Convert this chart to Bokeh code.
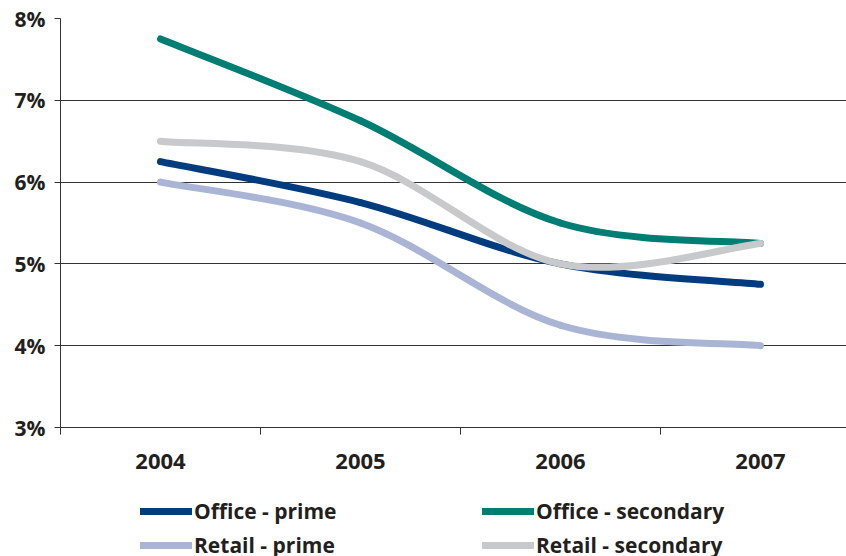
from bokeh.plotting import figure
from bokeh.layouts import column
from bokeh.models import (Range1d, FixedTicker, Legend, LegendItem, CustomJSTickFormatter)
from bokeh.embed import file_html
from bokeh.resources import INLINE

# Yields by year (%)
years = ["2004", "2005", "2006", "2007"]
office_prime = [6.25, 5.75, 5.0, 4.75]
office_secondary = [7.75, 6.75, 5.5, 5.25]
retail_prime = [6.0, 5.5, 4.25, 4.0]
retail_secondary = [6.5, 6.25, 5.0, 5.25]

series = [
    ("Office - prime", office_prime, "#003c7e"),
    ("Office - secondary", office_secondary, "#007e74"),
    ("Retail - prime", retail_prime, "#aab5d6"),
    ("Retail - secondary", retail_secondary, "#c8c9ca"),
]

FONT = "Open Sans"
TEXT_COLOR = "#231f20"
xs = [i + 0.5 for i in range(len(years))]

p = figure(width=846, height=486, output_backend="svg", toolbar_location=None,
           x_range=Range1d(0, 3.93), y_range=Range1d(3, 8),
           min_border_left=60, min_border_right=0, min_border_top=18,
           min_border_bottom=59, outline_line_color=None)
p.background_fill_color = "white"
p.border_fill_color = "white"

# Y axis: percentage ticks
p.yaxis.ticker = FixedTicker(ticks=[3, 4, 5, 6, 7, 8])
p.yaxis.formatter = CustomJSTickFormatter(code="return tick.toFixed(0) + '%';")
p.yaxis.major_label_text_font = FONT
p.yaxis.major_label_text_font_style = "bold"
p.yaxis.major_label_text_font_size = "21px"
p.yaxis.major_label_text_color = TEXT_COLOR
p.yaxis.axis_line_color = "#333333"
p.yaxis.major_tick_line_color = "#333333"
p.yaxis.major_tick_out = 6
p.yaxis.major_tick_in = 0
p.yaxis.minor_tick_line_color = None
p.yaxis.major_label_standoff = 9

# X axis: year labels at category centres, tick marks at category boundaries
p.xaxis.ticker = FixedTicker(ticks=xs, minor_ticks=[0, 1, 2, 3, 4])
p.xaxis.major_label_overrides = {x: y for x, y in zip(xs, years)}
p.xaxis.major_label_text_font = FONT
p.xaxis.major_label_text_font_style = "bold"
p.xaxis.major_label_text_font_size = "22px"
p.xaxis.major_label_text_color = TEXT_COLOR
p.xaxis.major_label_standoff = 19
p.xaxis.axis_line_color = "#333333"
p.xaxis.major_tick_line_color = None
p.xaxis.major_tick_out = 0
p.xaxis.major_tick_in = 0
p.xaxis.minor_tick_line_color = "#333333"
p.xaxis.minor_tick_out = 7
p.xaxis.minor_tick_in = 0

p.xgrid.grid_line_color = None
p.ygrid.grid_line_color = "#333333"
p.ygrid.grid_line_width = 1

# Smoothed curves: cubic Bezier segments with Catmull-Rom control points
def bezier_segments(x, y):
    n = len(x)
    px = [x[0]] + list(x) + [x[-1]]
    py = [y[0]] + list(y) + [y[-1]]
    segs = dict(x0=[], y0=[], x1=[], y1=[], cx0=[], cy0=[], cx1=[], cy1=[])
    for i in range(n - 1):
        a, b, c, d = i, i + 1, i + 2, i + 3
        segs["x0"].append(px[b]); segs["y0"].append(py[b])
        segs["x1"].append(px[c]); segs["y1"].append(py[c])
        segs["cx0"].append(px[b] + (px[c] - px[a]) / 6)
        segs["cy0"].append(py[b] + (py[c] - py[a]) / 6)
        segs["cx1"].append(px[c] - (px[d] - px[b]) / 6)
        segs["cy1"].append(py[c] - (py[d] - py[b]) / 6)
    return segs

for name, vals, color in series:
    s = bezier_segments(xs, vals)
    p.bezier(x0=s["x0"], y0=s["y0"], x1=s["x1"], y1=s["y1"],
             cx0=s["cx0"], cy0=s["cy0"], cx1=s["cx1"], cy1=s["cy1"],
             line_color=color, line_width=7, line_cap="round")

# Legend strip underneath the chart (its series lie outside this strip's ranges,
# so only the legend swatches show)
lf = figure(width=846, height=70, output_backend="svg", toolbar_location=None,
            x_axis_type=None, y_axis_type=None,
            x_range=Range1d(100, 101), y_range=Range1d(100, 101),
            min_border_left=60, min_border_right=0, min_border_top=0,
            min_border_bottom=0, outline_line_color=None)
lf.xgrid.grid_line_color = None
lf.ygrid.grid_line_color = None
lf.border_fill_color = "white"

items = []
for name, vals, color in series:
    r = lf.line(x=xs, y=vals, line_color=color, line_width=7, line_cap="round")
    items.append(LegendItem(label=name, renderers=[r]))

legend = Legend(items=items, orientation="horizontal", ncols=2,
                location=(80, -3),
                glyph_width=52, glyph_height=14, label_standoff=2,
                label_width=282, label_height=22, spacing=6,
                padding=0, margin=0,
                label_text_font=FONT, label_text_font_style="bold",
                label_text_font_size="21px", label_text_color=TEXT_COLOR,
                border_line_color=None, background_fill_alpha=0)
lf.add_layout(legend, "center")

layout = column(p, lf, spacing=0)
open("out.html", "w").write(file_html(layout, INLINE))
